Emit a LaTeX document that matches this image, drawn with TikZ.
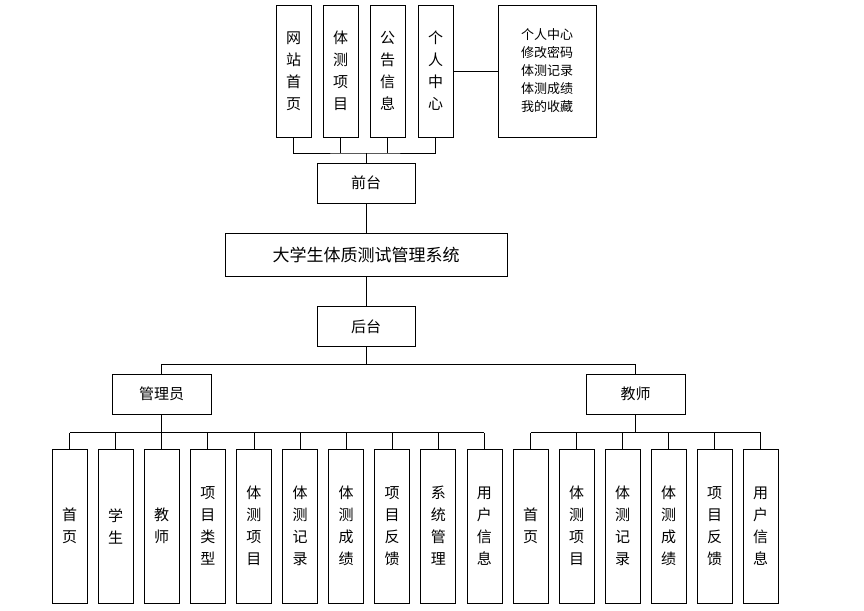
\documentclass[tikz,border=0pt]{standalone}
\usepackage{fontspec}
\setmainfont{Noto Sans CJK SC}
\usetikzlibrary{calc}
\tikzset{
  box/.style={draw,thick,inner sep=0pt,align=center,font=\fontsize{15}{22}\selectfont},
  tall/.style={box,minimum width=35pt,minimum height=132pt},
  low/.style={box,minimum width=35pt,minimum height=154pt},
  wide/.style={box,minimum width=98pt,minimum height=40pt},
}
\begin{document}
\begin{tikzpicture}[x=1pt,y=-1pt,thick]
        \useasboundingbox (0,0) rectangle (864,610);

        \node[tall] (t1) at (293.5,71) {网\\站\\首\\页};
        \node[tall] (t2) at (340.5,71) {体\\测\\项\\目};
        \node[tall] (t3) at (387.5,71) {公\\告\\信\\息};
        \node[tall] (t4) at (435.5,71) {个\\人\\中\\心};
        \node[box,minimum width=98pt,minimum height=132pt,font=\fontsize{13}{18}\selectfont] (menu) at (547,71) {个人中心\\修改密码\\体测记录\\体测成绩\\我的收藏};

        \node[wide] (front) at (366,183) {前台};
        \node[box,minimum width=282pt,minimum height=43pt,font=\fontsize{17}{22}\selectfont] (sys) at (366,254.5) {大学生体质测试管理系统};
        \node[wide] (back) at (366,326.5) {后台};
        \node[box,minimum width=99pt,minimum height=40pt] (admin) at (161.5,394) {管理员};
        \node[box,minimum width=99pt,minimum height=40pt] (teach) at (635.5,394) {教师};

        % 管理员
        \foreach \i/\t in {0/首\\页, 1/学\\生, 2/教\\师, 3/项\\目\\类\\型, 4/体\\测\\项\\目,
                           5/体\\测\\记\\录, 6/体\\测\\成\\绩, 7/项\\目\\反\\馈, 8/系\\统\\管\\理, 9/用\\户\\信\\息}
            \node[low] (a\i) at (69.5+46.1*\i,526) {\t};
        % 教师
        \foreach \i/\t in {0/首\\页, 1/体\\测\\项\\目, 2/体\\测\\记\\录, 3/体\\测\\成\\绩, 4/项\\目\\反\\馈, 5/用\\户\\信\\息}
            \node[low] (b\i) at (530.5+46*\i,526) {\t};

        \draw (t4) -- (menu);
        \draw (t1.south) |- (front.north |- 0,153) -| (t4.south);
        \draw (t2.south) -- +(0,16);
        \draw (t3.south) -- +(0,16);
        \draw (front.north |- 0,153) -- (front.north);
        \draw (front) -- (sys);
        \draw (sys) -- (back);
        \draw (back.south) -- +(0,17) coordinate (bj);
        \draw (admin.north) |- (bj) -| (teach.north);

        \foreach \i in {0,...,9}
            \draw (a\i.north) -- +(0,-16);
        \draw (a0.north) ++(0,-16) -- ($(a9.north)+(0,-16)$);
        \draw (admin) -- (admin |- 0,433);

        \foreach \i in {0,...,5}
            \draw (b\i.north) -- +(0,-16);
        \draw (b0.north) ++(0,-16) -- ($(b5.north)+(0,-16)$);
        \draw (teach) -- (teach |- 0,433);
\end{tikzpicture}
\end{document}
